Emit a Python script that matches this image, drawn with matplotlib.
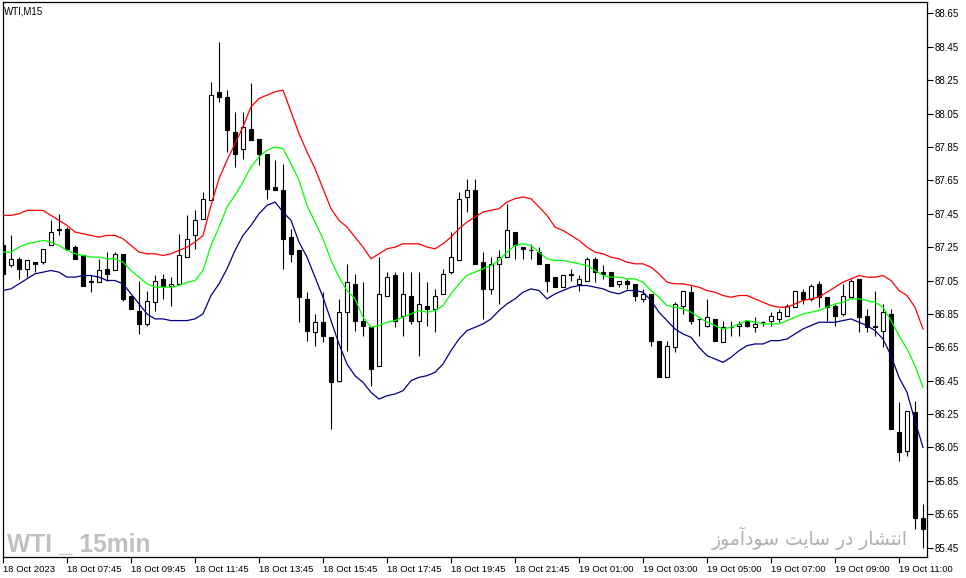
import numpy as np
import matplotlib
matplotlib.use("Agg")
import matplotlib.pyplot as plt

# ---------------- data (WTI, M15) ----------------
opens = [87.26, 87.14, 87.18, 87.12, 87.16, 87.16, 87.26, 87.35, 87.36, 87.25,
         87.20, 87.04, 87.04, 87.12, 87.11, 87.21, 86.96, 86.87, 86.79, 86.92,
         87.06, 87.02, 87.03, 87.19, 87.32, 87.42, 87.53, 88.18, 88.15, 87.94,
         87.84, 87.96, 87.90, 87.81, 87.61, 87.59, 87.31, 87.23, 86.94, 86.74,
         86.80, 86.71, 86.45, 86.86, 87.03, 86.81, 86.77, 86.54, 86.96, 87.08,
         86.84, 86.96, 86.81, 86.90, 86.88, 86.97, 87.10, 87.17, 87.55, 87.59,
         87.16, 87.00, 87.15, 87.19, 87.34, 87.25, 87.23, 87.22, 87.15, 87.07,
         87.01, 87.08, 87.03, 87.05, 87.18, 87.10, 87.10, 87.03, 87.05, 87.03,
         86.94, 86.97, 86.69, 86.47, 86.65, 86.90, 86.98, 86.82, 86.78, 86.82,
         86.68, 86.77, 86.78, 86.81, 86.77, 86.80, 86.81, 86.82, 86.84, 86.89,
         86.98, 86.94, 87.03, 86.95, 86.90, 86.85, 86.95, 87.06, 86.84, 86.78,
         86.75, 86.85, 86.14, 86.03, 86.26, 85.63]
highs = [87.28, 87.32, 87.19, 87.17, 87.16, 87.24, 87.41, 87.45, 87.37, 87.26,
         87.20, 87.08, 87.18, 87.22, 87.22, 87.21, 86.96, 87.05, 86.99, 87.08,
         87.09, 87.07, 87.33, 87.44, 87.47, 87.58, 88.24, 88.48, 88.19, 88.06,
         88.06, 88.23, 87.90, 87.81, 87.77, 87.75, 87.36, 87.23, 86.98, 86.85,
         86.98, 86.71, 86.94, 87.15, 87.09, 87.04, 86.77, 87.19, 87.10, 87.10,
         87.10, 87.10, 87.10, 87.04, 87.00, 87.12, 87.34, 87.58, 87.66, 87.66,
         87.22, 87.19, 87.23, 87.51, 87.34, 87.25, 87.27, 87.25, 87.15, 87.07,
         87.08, 87.12, 87.08, 87.19, 87.19, 87.14, 87.10, 87.05, 87.06, 87.03,
         87.00, 86.97, 86.69, 86.69, 86.92, 86.99, 87.02, 86.82, 86.94, 86.82,
         86.81, 86.81, 86.81, 86.81, 86.83, 86.81, 86.86, 86.88, 86.91, 86.99,
         87.00, 87.03, 87.05, 86.95, 86.91, 87.03, 87.06, 87.06, 86.88, 86.99,
         86.91, 86.88, 86.32, 86.27, 86.33, 85.71]
lows = [87.08, 87.13, 87.06, 87.07, 87.10, 87.15, 87.26, 87.32, 87.24, 87.18,
        87.02, 86.98, 87.04, 87.05, 87.11, 86.93, 86.88, 86.73, 86.78, 86.87,
        86.94, 86.90, 87.03, 87.19, 87.24, 87.42, 87.53, 88.12, 87.82, 87.73,
        87.78, 87.89, 87.74, 87.54, 87.59, 87.12, 87.16, 86.80, 86.69, 86.66,
        86.68, 86.16, 86.44, 86.63, 86.75, 86.72, 86.42, 86.54, 86.96, 86.77,
        86.72, 86.79, 86.60, 86.78, 86.74, 86.97, 87.09, 87.17, 87.46, 87.15,
        86.82, 86.97, 86.91, 87.19, 87.18, 87.18, 87.18, 87.15, 86.98, 87.01,
        87.01, 87.05, 86.99, 87.05, 87.04, 87.06, 87.02, 87.01, 87.00, 86.93,
        86.92, 86.66, 86.47, 86.47, 86.62, 86.85, 86.79, 86.72, 86.77, 86.69,
        86.68, 86.72, 86.72, 86.77, 86.74, 86.78, 86.78, 86.80, 86.84, 86.89,
        86.91, 86.93, 86.89, 86.81, 86.78, 86.84, 86.95, 86.74, 86.74, 86.72,
        86.65, 86.16, 85.97, 86.00, 85.56, 85.45]
closes = [87.09, 87.18, 87.12, 87.17, 87.15, 87.24, 87.34, 87.36, 87.24, 87.18,
          87.02, 87.05, 87.11, 87.09, 87.21, 86.94, 86.88, 86.79, 86.93, 87.05,
          87.02, 87.03, 87.20, 87.30, 87.41, 87.54, 88.16, 88.15, 87.95, 87.81,
          87.97, 87.89, 87.81, 87.60, 87.59, 87.30, 87.21, 86.95, 86.75, 86.80,
          86.72, 86.44, 86.86, 87.04, 86.81, 86.78, 86.52, 86.97, 87.07, 86.81,
          86.97, 86.81, 86.91, 86.88, 86.96, 87.09, 87.19, 87.54, 87.59, 87.15,
          87.00, 87.15, 87.19, 87.35, 87.26, 87.24, 87.23, 87.15, 87.05, 87.01,
          87.08, 87.09, 87.06, 87.18, 87.10, 87.09, 87.02, 87.05, 87.03, 86.96,
          86.97, 86.69, 86.47, 86.66, 86.91, 86.99, 86.81, 86.82, 86.83, 86.69,
          86.77, 86.77, 86.79, 86.78, 86.79, 86.80, 86.84, 86.86, 86.90, 86.99,
          86.94, 87.02, 86.95, 86.89, 86.84, 86.96, 87.05, 86.83, 86.77, 86.77,
          86.86, 86.16, 86.02, 86.27, 85.63, 85.56]

upper = [87.44, 87.44, 87.45, 87.47, 87.47, 87.47, 87.44, 87.41, 87.38, 87.34,
         87.33, 87.32, 87.31, 87.32, 87.32, 87.30, 87.26, 87.22, 87.21, 87.21,
         87.20, 87.21, 87.23, 87.25, 87.28, 87.32, 87.50, 87.66, 87.77, 87.87,
         87.97, 88.09, 88.14, 88.16, 88.18, 88.19, 88.06, 87.93, 87.82, 87.72,
         87.60, 87.48, 87.41, 87.37, 87.31, 87.25, 87.18, 87.21, 87.24, 87.25,
         87.27, 87.27, 87.27, 87.25, 87.24, 87.27, 87.31, 87.36, 87.40, 87.43,
         87.46, 87.47, 87.48, 87.52, 87.54, 87.55, 87.54, 87.49, 87.44, 87.37,
         87.35, 87.32, 87.29, 87.25, 87.22, 87.21, 87.19, 87.18, 87.16, 87.15,
         87.15, 87.13, 87.09, 87.04, 87.03, 87.03, 87.02, 87.01, 86.99, 86.98,
         86.96, 86.95, 86.96, 86.96, 86.94, 86.92, 86.90, 86.89, 86.89, 86.91,
         86.93, 86.94, 86.95, 86.98, 87.01, 87.04, 87.06, 87.08, 87.07, 87.07,
         87.08, 87.05, 86.99, 86.96, 86.89, 86.76]
middle = [87.22, 87.22, 87.25, 87.27, 87.28, 87.29, 87.28, 87.26, 87.23, 87.21,
          87.20, 87.19, 87.19, 87.18, 87.18, 87.16, 87.11, 87.07, 87.03, 87.01,
          87.01, 87.01, 87.02, 87.04, 87.05, 87.11, 87.26, 87.37, 87.49, 87.56,
          87.64, 87.73, 87.79, 87.83, 87.85, 87.84, 87.75, 87.65, 87.50, 87.40,
          87.30, 87.17, 87.07, 86.99, 86.94, 86.83, 86.77, 86.78, 86.80, 86.81,
          86.83, 86.85, 86.87, 86.86, 86.87, 86.90, 86.97, 87.03, 87.08, 87.10,
          87.12, 87.14, 87.17, 87.22, 87.26, 87.27, 87.26, 87.22, 87.18, 87.17,
          87.17, 87.16, 87.15, 87.14, 87.11, 87.08, 87.07, 87.07, 87.06, 87.06,
          87.04, 86.99, 86.95, 86.90, 86.89, 86.88, 86.86, 86.83, 86.80, 86.78,
          86.76, 86.77, 86.79, 86.81, 86.80, 86.79, 86.79, 86.79, 86.81, 86.83,
          86.85, 86.86, 86.87, 86.89, 86.91, 86.92, 86.94, 86.94, 86.93, 86.92,
          86.89, 86.81, 86.72, 86.64, 86.54, 86.41]
lower = [86.99, 87.00, 87.03, 87.06, 87.09, 87.10, 87.11, 87.10, 87.07, 87.07,
         87.08, 87.08, 87.07, 87.05, 87.05, 87.03, 86.97, 86.91, 86.85, 86.82,
         86.82, 86.81, 86.81, 86.81, 86.82, 86.85, 86.96, 87.03, 87.12, 87.23,
         87.32, 87.38, 87.45, 87.50, 87.52, 87.46, 87.41, 87.28, 87.19, 87.07,
         86.95, 86.81, 86.67, 86.55, 86.48, 86.44, 86.38, 86.34, 86.36, 86.37,
         86.39, 86.45, 86.47, 86.48, 86.50, 86.55, 86.63, 86.70, 86.75, 86.77,
         86.79, 86.82, 86.87, 86.91, 86.94, 86.98, 87.00, 86.99, 86.94, 86.97,
         86.99, 87.01, 87.02, 87.02, 87.01, 87.00, 86.98, 86.97, 86.99, 86.99,
         86.98, 86.93, 86.86, 86.81, 86.76, 86.73, 86.71, 86.65, 86.60, 86.58,
         86.56, 86.59, 86.63, 86.66, 86.67, 86.67, 86.69, 86.69, 86.70, 86.73,
         86.76, 86.78, 86.80, 86.80, 86.80, 86.81, 86.82, 86.80, 86.78, 86.75,
         86.70, 86.60, 86.47, 86.38, 86.21, 86.05]

xtick_pos = [0, 8, 16, 24, 32, 40, 48, 56, 64, 72, 80, 88, 96, 104, 112]
xtick_labels = ["18 Oct 2023", "18 Oct 07:45", "18 Oct 09:45", "18 Oct 11:45",
                "18 Oct 13:45", "18 Oct 15:45", "18 Oct 17:45", "18 Oct 19:45",
                "18 Oct 21:45", "19 Oct 01:00", "19 Oct 03:00", "19 Oct 05:00",
                "19 Oct 07:00", "19 Oct 09:00", "19 Oct 11:00"]
ytick_values = [85.45, 85.65, 85.85, 86.05, 86.25, 86.45, 86.65, 86.85, 87.05,
                87.25, 87.45, 87.65, 87.85, 88.05, 88.25, 88.45, 88.65]

title_text = "WTI,M15"
watermark_left = "WTI _ 15min"
watermark_right = "انتشار در سایت سودآموز"


# --------- minimal Arabic-script shaping (matplotlib has none) ---------
_FORMS = {  # isolated, final, initial, medial
    'ا': ('\uFE8D', '\uFE8E', None, None),
    'آ': ('\uFE81', '\uFE82', None, None),
    'ر': ('\uFEAD', '\uFEAE', None, None),
    'ز': ('\uFEAF', '\uFEB0', None, None),
    'د': ('\uFEA9', '\uFEAA', None, None),
    'و': ('\uFEED', '\uFEEE', None, None),
    'ن': ('\uFEE5', '\uFEE6', '\uFEE7', '\uFEE8'),
    'ت': ('\uFE95', '\uFE96', '\uFE97', '\uFE98'),
    'ش': ('\uFEB5', '\uFEB6', '\uFEB7', '\uFEB8'),
    'س': ('\uFEB1', '\uFEB2', '\uFEB3', '\uFEB4'),
    'ی': ('\uFBFC', '\uFBFD', '\uFBFE', '\uFBFF'),
    'م': ('\uFEE1', '\uFEE2', '\uFEE3', '\uFEE4'),
}


def shape_rtl(s):
    out = []
    for k, ch in enumerate(s):
        if ch not in _FORMS:
            out.append(ch)
            continue
        prev = s[k - 1] if k > 0 else ''
        nxt = s[k + 1] if k + 1 < len(s) else ''
        pj = prev in _FORMS and _FORMS[prev][2] is not None
        dual = _FORMS[ch][2] is not None
        nj = dual and nxt in _FORMS
        iso, fin, ini, med = _FORMS[ch]
        if pj and nj:
            out.append(med)
        elif pj:
            out.append(fin)
        elif nj:
            out.append(ini)
        else:
            out.append(iso)
    return ''.join(reversed(out))


# ---------------- figure ----------------
W, H = 966, 578
fig = plt.figure(figsize=(W / 100, H / 100), dpi=100)
fig.patch.set_facecolor('white')
ax_l, ax_r, ax_t, ax_b = 2.7, 926.7, 2.3, 556.7
ax = fig.add_axes([ax_l / W, 1 - ax_b / H, (ax_r - ax_l) / W, (ax_b - ax_t) / H])
ax.set_facecolor('white')

o = np.array(opens)
h = np.array(highs)
l = np.array(lows)
c = np.array(closes)
x = np.arange(len(o))
bull = c > o
bear = c < o
doji = c == o
bw = 0.62

ax.vlines(x, l, h, color='black', lw=0.8, zorder=1)
ax.bar(x[bull], (c - o)[bull], bottom=o[bull], width=bw, color='white',
       edgecolor='black', linewidth=0.8, zorder=2)
ax.bar(x[bear], (o - c)[bear], bottom=c[bear], width=bw, color='black',
       edgecolor='black', linewidth=0.8, zorder=2)
ax.hlines(o[doji], x[doji] - bw / 2, x[doji] + bw / 2, color='black', lw=0.9, zorder=2)

ax.plot(x, upper, color='#ff0000', lw=0.9, zorder=3)
ax.plot(x, middle, color='#00ff00', lw=0.9, zorder=3)
ax.plot(x, lower, color='#000080', lw=0.9, zorder=3)

ax.set_xlim(-0.0375, 115.4625)
ax.set_ylim(85.396, 88.716)

for sp in ax.spines.values():
    sp.set_color('black')
    sp.set_linewidth(0.9)

ax.yaxis.tick_right()
ax.set_yticks(ytick_values)
ax.set_yticklabels([f"{v:.2f}" for v in ytick_values], family='Liberation Sans',
                   fontsize=7)
ax.set_xticks(xtick_pos)
ax.set_xticklabels(xtick_labels, family='Liberation Sans', fontsize=6.8, ha='left')
ax.tick_params(axis='y', direction='out', length=4, width=0.8, pad=2, colors='black')
ax.tick_params(axis='x', direction='out', length=4, width=0.8, pad=2, colors='black')

fig.text(4 / W, 1 - 6 / H, title_text, family='Liberation Sans', fontsize=7,
         va='top', ha='left', color='black')
fig.text(7 / W, 1 - 551 / H, watermark_left,
         family='Liberation Sans', fontweight='bold',
         fontsize=17.7, color='#c0c0c0', va='baseline', ha='left')
fig.text(908 / W, 1 - 545 / H, shape_rtl(watermark_right), family='DejaVu Sans',
         fontsize=13.5, color='#b0b0b0', va='baseline', ha='right')

fig.savefig('out.png', dpi=100, facecolor='white')
